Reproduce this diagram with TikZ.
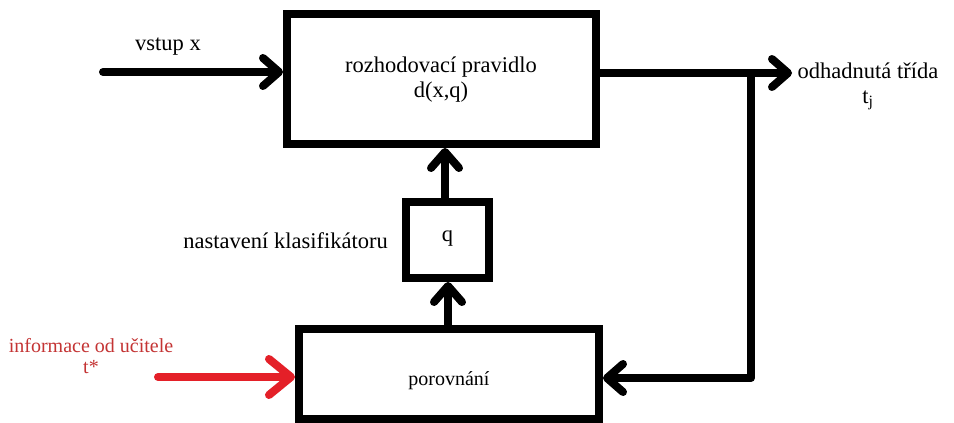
\documentclass[tikz,border=0pt]{standalone}
\usepackage{fontspec}
\setmainfont{Liberation Serif}
\usetikzlibrary{arrows.meta,calc}
\definecolor{teacherred}{RGB}{228,32,40}
\definecolor{teachertext}{RGB}{196,52,52}
\tikzset{
  blockbox/.style={draw=black, line width=8pt, rectangle, inner sep=0pt},
  flow/.style={line width=8pt, line cap=round, line join=round,
    -{Straight Barb[length=16pt, width=28pt, line cap=round, line join=round]}},
  redflow/.style={flow, draw=teacherred,
    -{Straight Barb[length=22pt, width=36pt, line cap=round, line join=round]}},
  lbl/.style={font=\fontsize{22.5}{25}\selectfont, inner sep=0pt, align=center},
}
\begin{document}
\begin{tikzpicture}[x=1pt, y=-1pt]
  \useasboundingbox (0,0) rectangle (954,423);
  \fill[white] (0,0) rectangle (954,423);

  % blocks
  \node[blockbox, minimum width=309pt, minimum height=130pt] (rule) at (441.5,79) {};
  \node[lbl] (ruletext) at (441,80) {rozhodovací pravidlo\\d(x,q)};
  \node[blockbox, minimum width=83pt, minimum height=76pt] (qbox) at (447.5,240) {};
  \node[lbl] (qtext) at (447.5,238) {q};
  \node[blockbox, minimum width=300pt, minimum height=90pt] (cmp) at (449,374) {};
  \node[lbl, font=\fontsize{20}{23}\selectfont] (cmptext) at (449,381) {porovnání};

  % labels
  \node[lbl] (inlabel) at (168,47) {vstup x};
  \node[lbl, anchor=east] (qlabel) at (388,241) {nastavení klasifikátoru};
  \node[lbl] (outlabel) at (868,86) {odhadnutá třída\\t\textsubscript{j}};
  \node[lbl, font=\fontsize{20}{21}\selectfont, text=teachertext] (teachlabel) at (91,356)
    {informace od učitele\\t*};

  % connectors
  \coordinate (inpt) at (103,72);
  \coordinate (outpt) at (792,73);
  \coordinate (branch) at (751,73);
  \coordinate (teach) at (158,377);
  \draw[flow] (inpt) -- (inpt -| rule.west);
  \draw[flow] (rule.east |- outpt) -- (outpt);
  \draw[flow] (branch) |- ($(cmp.east)+(0,4)$);
  \draw[flow] (qbox.north -| 445,0) -- (rule.south -| 445,0);
  \draw[flow] (cmp.north -| 448,0) -- (qbox.south -| 448,0);
  \draw[redflow] (teach) -- (teach -| cmp.west);
\end{tikzpicture}
\end{document}
